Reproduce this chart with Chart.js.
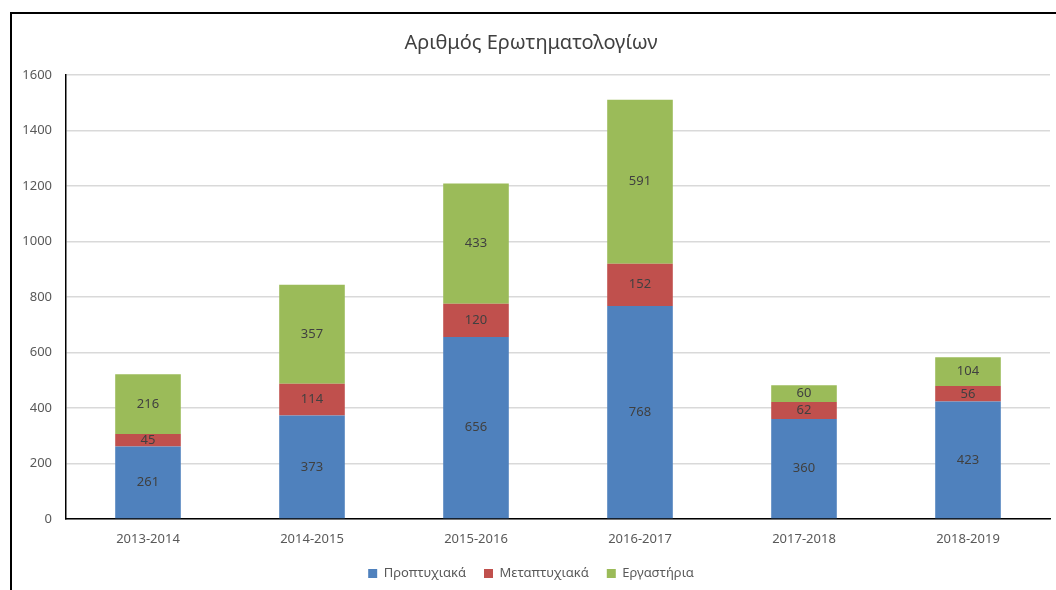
<!DOCTYPE html>
<html>
<head>
<meta charset="utf-8">
<script src="https://cdn.jsdelivr.net/npm/chart.js@4"></script>
<style>
  body { margin: 0; background: #fff; overflow: hidden; }
  #frame {
    position: absolute; left: 10px; top: 12px;
    width: 1046px; height: 578px; box-sizing: border-box;
    border-left: 2px solid #000; border-top: 2px solid #000;
  }
  #chart { display: block; }
</style>
</head>
<body>
<div id="frame"><canvas id="chart" width="1044" height="576"></canvas></div>
<script>
var years = ['2013-2014', '2014-2015', '2015-2016', '2016-2017', '2017-2018', '2018-2019'];
var undergrad = [261, 373, 656, 768, 360, 423];
var postgrad = [45, 114, 120, 152, 62, 56];
var labs = [216, 357, 433, 591, 60, 104];
var yTicks = [0, 200, 400, 600, 800, 1000, 1200, 1400, 1600];

var fontName = '"Noto Sans", "Open Sans", sans-serif';

// draw the value in the middle of each stacked segment
var segmentLabels = {
  id: 'segmentLabels',
  afterDatasetsDraw: function(chart) {
    var ctx = chart.ctx;
    ctx.save();
    ctx.font = '13px ' + fontName;
    ctx.fillStyle = '#404040';
    ctx.textAlign = 'center';
    ctx.textBaseline = 'middle';
    chart.data.datasets.forEach(function(ds, i) {
      chart.getDatasetMeta(i).data.forEach(function(bar, j) {
        ctx.fillText(ds.data[j], bar.x, (bar.y + bar.base) / 2);
      });
    });
    ctx.restore();
  }
};

new Chart(document.getElementById('chart'), {
  type: 'bar',
  data: {
    labels: years,
    datasets: [
      { label: 'Προπτυχιακά', data: undergrad, backgroundColor: '#4F81BD' },
      { label: 'Μεταπτυχιακά', data: postgrad, backgroundColor: '#C0504D' },
      { label: 'Εργαστήρια', data: labs, backgroundColor: '#9BBB59' }
    ]
  },
  options: {
    responsive: false,
    animation: false,
    layout: { padding: { left: 0, right: 6, top: 0, bottom: 0 } },
    datasets: { bar: { barPercentage: 0.4, categoryPercentage: 1 } },
    plugins: {
      title: {
        display: true,
        text: 'Αριθμός Ερωτηματολογίων',
        color: '#404040',
        font: { family: fontName, size: 20, weight: 'normal' },
        padding: { top: 17, bottom: 20 }
      },
      legend: {
        position: 'bottom',
        labels: {
          boxWidth: 9, boxHeight: 9,
          color: '#595959',
          font: { family: fontName, size: 13 },
          padding: 18
        }
      },
      tooltip: { enabled: false }
    },
    scales: {
      x: {
        stacked: true,
        grid: { display: false },
        border: { color: '#000', width: 1.5 },
        ticks: { color: '#595959', font: { family: fontName, size: 13 }, padding: 4 },
        afterFit: function(scale) { scale.height = 30; }
      },
      y: {
        stacked: true,
        min: 0, max: 1600,
        afterBuildTicks: function(scale) {
          scale.ticks = yTicks.map(function(v) { return { value: v }; });
        },
        grid: { color: '#d9d9d9', lineWidth: 1.5, drawTicks: false },
        border: { color: '#000', width: 1.5 },
        ticks: {
          color: '#595959', font: { family: fontName, size: 13 }, padding: 14,
          callback: function(v) { return String(v); }
        },
        afterFit: function(scale) { scale.width = 54; }
      }
    }
  },
  plugins: [segmentLabels]
});
</script>
</body>
</html>
